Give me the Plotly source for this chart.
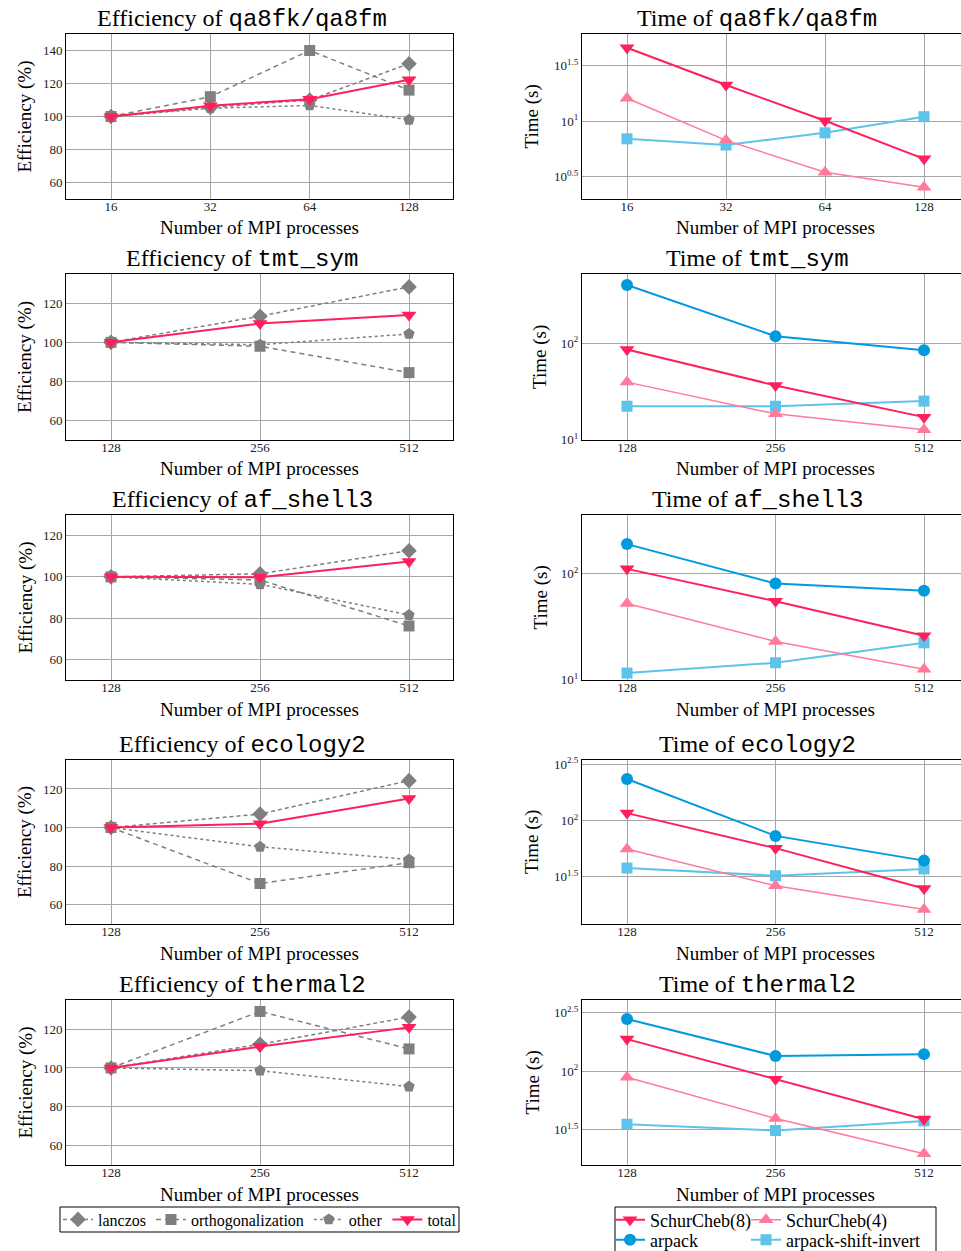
import plotly.graph_objects as go
import math

W, H = 961, 1251

# ---------------- data ----------------
matrices = ["qa8fk/qa8fm", "tmt_sym", "af_shell3", "ecology2", "thermal2"]
procs_qa = [16, 32, 64, 128]
procs = [128, 256, 512]

# Efficiency (%)
eff_lanczos = [
    [100, 105.5, 110, 132],
    [100, 113.4, 128.4],
    [100, 101.5, 112.7],
    [100, 107, 124.3],
    [100, 112.2, 126.2],
]
eff_orth = [
    [100, 112, 140, 116],
    [100, 98, 84.5],
    [100, 98.5, 76.2],
    [100, 71, 81.8],
    [100, 129.1, 109.8],
]
eff_other = [
    [100, 105, 106.7, 98],
    [100, 98.8, 104.3],
    [100, 96.4, 81.5],
    [100, 90, 83.4],
    [100, 98.6, 90.4],
]
eff_total = [
    [100, 106.5, 110.5, 122.3],
    [100, 109.7, 114],
    [100, 99.8, 107.5],
    [100, 102, 115],
    [100, 111, 120.9],
]

# Time (s)
t_sc8 = [
    [45.9, 21.2, 10.1, 4.59],
    [86, 36.6, 17.2],
    [110.6, 54.8, 26],
    [116.4, 56.8, 24.9],
    [188, 85.5, 39],
]
t_sc4 = [
    [16.1, 6.73, 3.48, 2.54],
    [39.6, 18.6, 12.7],
    [52.2, 23, 12.6],
    [55.8, 26.3, 16.2],
    [89, 39.5, 19.8],
]
t_arpack = [
    None,
    [400, 118, 84.5],
    [189, 80.5, 69],
    [234, 73, 44],
    [279, 135, 140],
]
t_shift = [
    [6.95, 6.11, 7.87, 11.0],
    [22.3, 22.3, 25.2],
    [11.6, 14.5, 22.3],
    [37.8, 32.3, 37.1],
    [35.3, 31.2, 37.7],
]

eff_ranges = [[50, 150], [50, 135], [50, 130], [50, 135], [50, 135]]
eff_ticks = [[60, 80, 100, 120, 140], [60, 80, 100, 120], [60, 80, 100, 120],
             [60, 80, 100, 120], [60, 80, 100, 120]]
time_ranges = [[0.3, 1.786], [0.999, 2.716], [0.999, 2.55], [1.08, 2.538], [1.2, 2.608]]
time_tick_exps = [["0.5", "1", "1.5"], ["1", "2"], ["1", "2"], ["1.5", "2", "2.5"], ["1.5", "2", "2.5"]]

# ---------------- layout geometry (pixels) ----------------
tops = [34, 274, 515, 760, 1000]
bottoms = [199, 440, 680, 924, 1165]
LX0, LX1 = 66, 453
RX0, RX1 = 582, 961
ylab_right_x = [532, 540, 540, 532, 532]

def fx(px):
    return px / W

def fy(py):
    return 1 - py / H

SERIF = "Liberation Serif"
MONO = "Liberation Mono"
GREY = "#7f7f7f"
C_TOTAL = "#ff1f5b"
C_SC4 = "#ff7a9c"
C_ARP = "#009ade"
C_SHIFT = "#5ec3eb"
GRID = "#a6a6a6"

fig = go.Figure()
annotations = []
layout = {}

for r in range(5):
    xs = procs_qa if r == 0 else procs
    la = 2 * r + 1  # left axis index
    ra = 2 * r + 2  # right axis index
    lx = "x" if la == 1 else f"x{la}"
    ly = "y" if la == 1 else f"y{la}"
    rx = f"x{ra}"
    ry = f"y{ra}"
    last = (r == 4)

    first_oct = math.log2(xs[0])
    last_oct = math.log2(xs[-1])
    ppo_l = (409 - 111) / (last_oct - first_oct)
    ppo_r = (924 - 627) / (last_oct - first_oct)
    lrange = [(first_oct - (111 - LX0) / ppo_l) * math.log10(2),
              (last_oct + (LX1 - 409) / ppo_l) * math.log10(2)]
    rrange = [(first_oct - (627 - RX0) / ppo_r) * math.log10(2),
              (last_oct + (RX1 - 924) / ppo_r) * math.log10(2)]

    common_x = dict(type="log", tickvals=xs, ticktext=[str(v) for v in xs],
                    showgrid=True, gridcolor=GRID, gridwidth=1, zeroline=False,
                    showline=True, linecolor="black", linewidth=1, mirror=True,
                    ticks="", ticklabelstandoff=-5,
                    tickfont=dict(family=SERIF, size=13, color="#222"),
                    fixedrange=True)
    common_y = dict(showgrid=True, gridcolor=GRID, gridwidth=1, zeroline=False,
                    showline=True, linecolor="black", linewidth=1, mirror=True,
                    ticks="", tickfont=dict(family=SERIF, size=13, color="#222"),
                    fixedrange=True)
    dom_y = [fy(bottoms[r]), fy(tops[r])]

    layout["xaxis" if la == 1 else f"xaxis{la}"] = dict(
        common_x, domain=[fx(LX0), fx(LX1)], range=lrange, anchor=ly)
    layout["yaxis" if la == 1 else f"yaxis{la}"] = dict(
        common_y, domain=dom_y, range=eff_ranges[r], tickvals=eff_ticks[r], anchor=lx)
    layout[f"xaxis{ra}"] = dict(
        common_x, domain=[fx(RX0), fx(RX1)], range=rrange, anchor=ry)
    exps = time_tick_exps[r]
    layout[f"yaxis{ra}"] = dict(
        common_y, type="log", domain=dom_y, range=time_ranges[r],
        tickvals=[10 ** float(e) for e in exps],
        ticktext=[f"10<sup>{e}</sup>" for e in exps], anchor=rx)

    # ---- efficiency traces ----
    fig.add_trace(go.Scatter(
        x=xs, y=eff_lanczos[r], mode="lines+markers", name="lanczos",
        line=dict(color=GREY, width=1.5, dash="4px,3px"),
        marker=dict(symbol="diamond", size=12, color=GREY),
        xaxis=lx, yaxis=ly, showlegend=last, legend="legend"))
    fig.add_trace(go.Scatter(
        x=xs, y=eff_orth[r], mode="lines+markers", name="orthogonalization",
        line=dict(color=GREY, width=1.5, dash="5px,4px"),
        marker=dict(symbol="square", size=11, color=GREY),
        xaxis=lx, yaxis=ly, showlegend=last, legend="legend"))
    fig.add_trace(go.Scatter(
        x=xs, y=eff_other[r], mode="lines+markers", name="other",
        line=dict(color=GREY, width=1.5, dash="dot"),
        marker=dict(symbol="pentagon", size=12, color=GREY),
        xaxis=lx, yaxis=ly, showlegend=last, legend="legend"))
    fig.add_trace(go.Scatter(
        x=xs, y=eff_total[r], mode="lines+markers", name="total",
        line=dict(color=C_TOTAL, width=2),
        marker=dict(symbol="triangle-down", size=13, color=C_TOTAL),
        xaxis=lx, yaxis=ly, showlegend=last, legend="legend"))

    # ---- time traces ----
    fig.add_trace(go.Scatter(
        x=xs, y=t_shift[r], mode="lines+markers", name="arpack-shift-invert",
        line=dict(color=C_SHIFT, width=2),
        marker=dict(symbol="square", size=11, color=C_SHIFT),
        xaxis=rx, yaxis=ry, showlegend=last, legend="legend5"))
    if t_arpack[r] is not None:
        fig.add_trace(go.Scatter(
            x=xs, y=t_arpack[r], mode="lines+markers", name="arpack",
            line=dict(color=C_ARP, width=2),
            marker=dict(symbol="circle", size=12, color=C_ARP),
            xaxis=rx, yaxis=ry, showlegend=last, legend="legend4"))
    fig.add_trace(go.Scatter(
        x=xs, y=t_sc4[r], mode="lines+markers", name="SchurCheb(4)",
        line=dict(color=C_SC4, width=1.5),
        marker=dict(symbol="triangle-up", size=13, color=C_SC4),
        xaxis=rx, yaxis=ry, showlegend=last, legend="legend3"))
    fig.add_trace(go.Scatter(
        x=xs, y=t_sc8[r], mode="lines+markers", name="SchurCheb(8)",
        line=dict(color=C_TOTAL, width=2),
        marker=dict(symbol="triangle-down", size=13, color=C_TOTAL),
        xaxis=rx, yaxis=ry, showlegend=last, legend="legend2"))

    # ---- titles ----
    name = matrices[r]
    annotations.append(dict(
        text=f'Efficiency of <span style="font-family:{MONO}">{name}</span>',
        x=fx(242), y=fy(tops[r] - 15), xref="paper", yref="paper",
        xanchor="center", yanchor="middle", showarrow=False,
        font=dict(family=SERIF, size=24, color="black")))
    annotations.append(dict(
        text=f'Time of <span style="font-family:{MONO}">{name}</span>',
        x=fx(757), y=fy(tops[r] - 15), xref="paper", yref="paper",
        xanchor="center", yanchor="middle", showarrow=False,
        font=dict(family=SERIF, size=24, color="black")))
    # ---- axis labels ----
    mid_y = (tops[r] + bottoms[r]) / 2
    annotations.append(dict(
        text="Efficiency (%)", x=fx(25), y=fy(mid_y), xref="paper", yref="paper",
        textangle=-90, xanchor="center", yanchor="middle", showarrow=False,
        font=dict(family=SERIF, size=19, color="black")))
    annotations.append(dict(
        text="Time (s)", x=fx(ylab_right_x[r]), y=fy(mid_y), xref="paper", yref="paper",
        textangle=-90, xanchor="center", yanchor="middle", showarrow=False,
        font=dict(family=SERIF, size=19, color="black")))
    annotations.append(dict(
        text="Number of MPI processes", x=fx((LX0 + LX1) / 2), y=fy(bottoms[r] + 29),
        xref="paper", yref="paper", xanchor="center", yanchor="middle", showarrow=False,
        font=dict(family=SERIF, size=19, color="black")))
    annotations.append(dict(
        text="Number of MPI processes", x=fx(775), y=fy(bottoms[r] + 29),
        xref="paper", yref="paper", xanchor="center", yanchor="middle", showarrow=False,
        font=dict(family=SERIF, size=19, color="black")))

shapes = [
    dict(type="rect", xref="paper", yref="paper", x0=fx(60), x1=fx(459),
         y0=fy(1232), y1=fy(1207), line=dict(color="black", width=1)),
    dict(type="rect", xref="paper", yref="paper", x0=fx(615), x1=fx(936),
         y0=fy(1260), y1=fy(1207), line=dict(color="black", width=1)),
]

leg_font = dict(family=SERIF, size=16, color="black")
leg_font_r = dict(family=SERIF, size=18, color="black")

def single_legend(xpx, ypx):
    return dict(orientation="h", x=fx(xpx), y=fy(ypx), xanchor="left", yanchor="middle",
                font=leg_font_r, itemwidth=30, bgcolor="rgba(0,0,0,0)", tracegroupgap=0)

fig.update_layout(
    width=W, height=H,
    margin=dict(l=0, r=0, t=0, b=0, autoexpand=False),
    paper_bgcolor="white", plot_bgcolor="white",
    annotations=annotations, shapes=shapes,
    legend=dict(orientation="h", x=fx(58), y=fy(1219.5), xanchor="left", yanchor="middle",
                font=leg_font, itemwidth=30, bgcolor="rgba(0,0,0,0)", tracegroupgap=0,
                traceorder="normal"),
    legend2=single_legend(610, 1220),
    legend3=single_legend(746, 1220),
    legend4=single_legend(610, 1240),
    legend5=single_legend(746, 1240),
    **layout,
)

fig.write_html("out.html")
